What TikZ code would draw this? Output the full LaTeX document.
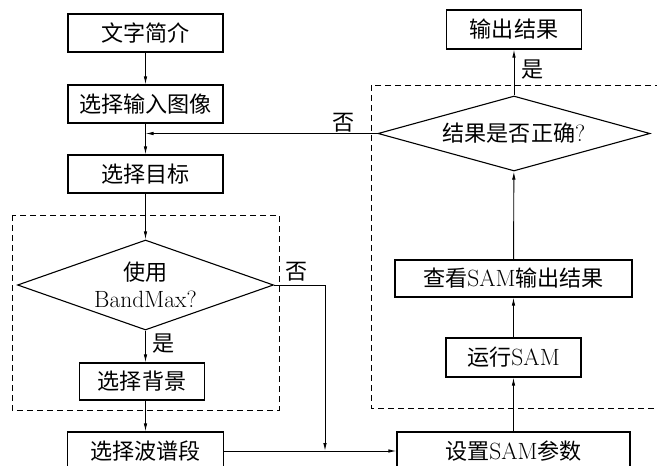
\documentclass[tikz,border=0pt]{standalone}
\usepackage{fontspec}
\newfontfamily\cjk[Scale=0.94]{Noto Sans CJK SC}
\usetikzlibrary{shapes.geometric,arrows.meta}
\begin{document}
\begin{tikzpicture}[x=1pt,y=-1pt,
  every node/.style={font=\fontsize{23.5}{27}\selectfont},
  box/.style={draw, line width=1.1pt, inner sep=0pt, minimum height=38pt},
  dia/.style={draw, diamond, line width=1.1pt, inner sep=0pt, align=center},
  arr/.style={line width=0.9pt, -{Latex[length=8pt,width=3.5pt]}},
  ln/.style={line width=0.9pt},
  grp/.style={line width=0.9pt, dash pattern=on 6pt off 4pt},
  lbl/.style={inner sep=0pt}]
\useasboundingbox (0,0) rectangle (657,466);
% dashed groups
\draw[grp] (12,215) rectangle (279,410);
\draw[grp] (371,85) rectangle (668,408);
% left column
\node[box, minimum width=155pt] (n1) at (145.5,33) {\cjk 文字简介};
\node[box, minimum width=155pt] (n2) at (145.5,104) {\cjk 选择输入图像};
\node[box, minimum width=155pt] (n3) at (145.5,174) {\cjk 选择目标};
\node[dia, aspect=2.85, minimum width=256pt, minimum height=90pt] (d1) at (145.5,285) {{\cjk 使用}\\BandMax?};
\node[box, minimum width=125pt, minimum height=37pt] (n4) at (142,381.5) {\cjk 选择背景};
\node[box, minimum width=156pt] (n5) at (145.5,451) {\cjk 选择波谱段};
% right column
\node[box, minimum width=233pt] (n6) at (513.5,451) {{\cjk 设置}SAM{\cjk 参数}};
\node[box, minimum width=135pt, minimum height=39pt] (n7) at (513.5,357.5) {{\cjk 运行}SAM};
\node[box, minimum width=237pt, minimum height=37pt] (n8) at (513.5,278.5) {{\cjk 查看}SAM{\cjk 输出结果}};
\node[dia, aspect=3.6, minimum width=272pt, minimum height=75pt] (d2) at (514,133.5) {{\cjk 结果是否正确}?};
\node[box, minimum width=135pt, minimum height=39pt] (n9) at (514,29.5) {\cjk 输出结果};
% junctions
\coordinate (k) at (145.5,133.5);
\coordinate (j) at (325,451);
\coordinate (c1) at (325,285);
% connectors
\draw[arr] (n1) -- (n2);
\draw[arr] (n2) -- (n3);
\draw[arr] (n3) -- (d1);
\draw[arr] (d1.south) -- (d1.south |- n4.north);
\draw[arr] (n4.south -| d1.south) -- (n5);
\draw[arr] (d1.east) -- (c1) -- (j);
\draw[ln] (n5.east) -- (j);
\draw[arr] (j) -- (n6.west);
\draw[arr] (n6) -- (n7);
\draw[arr] (n7) -- (n8);
\draw[arr] (n8) -- (d2);
\draw[arr] (d2) -- (n9);
\draw[arr] (d2.west) -- (k);
% labels
\node[lbl] (l1) at (297,272) {\cjk 否};
\node[lbl] (l2) at (164,344) {\cjk 是};
\node[lbl] (l3) at (533,70) {\cjk 是};
\node[lbl] (l4) at (344,123) {\cjk 否};
\end{tikzpicture}
\end{document}
